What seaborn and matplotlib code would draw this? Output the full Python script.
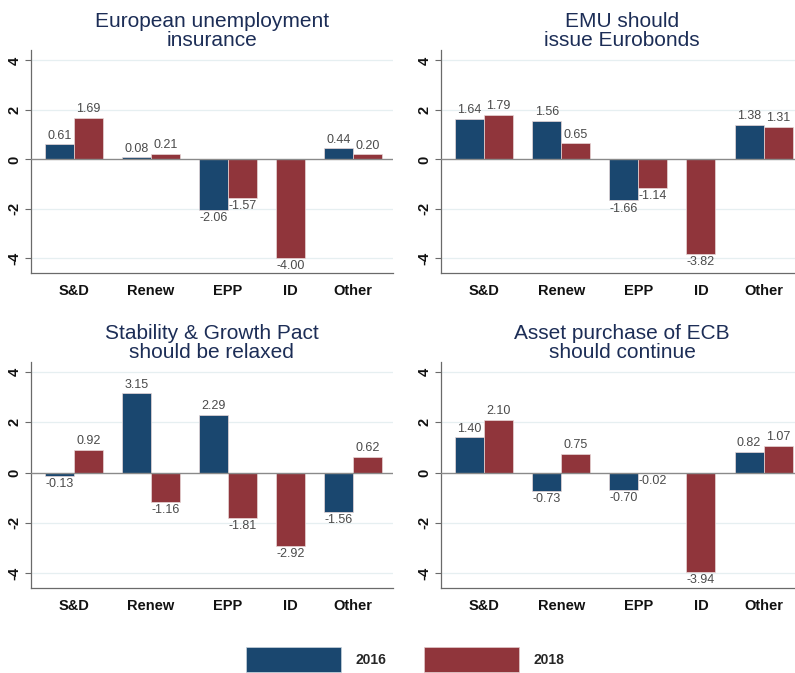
import numpy as np
import pandas as pd
import matplotlib
matplotlib.use("Agg")
import matplotlib.pyplot as plt
from matplotlib.patches import Patch
import seaborn as sns

# ---------------- data ----------------
parties = ["S&D", "Renew", "EPP", "ID", "Other"]
years = ["2016", "2018"]
titles = [
    "European unemployment\ninsurance",
    "EMU should\nissue Eurobonds",
    "Stability & Growth Pact\nshould be relaxed",
    "Asset purchase of ECB\nshould continue",
]
unemp_2016 = [0.61, 0.08, -2.06, np.nan, 0.44]
unemp_2018 = [1.69, 0.21, -1.57, -4.00, 0.20]
eurobonds_2016 = [1.64, 1.56, -1.66, np.nan, 1.38]
eurobonds_2018 = [1.79, 0.65, -1.14, -3.82, 1.31]
sgp_2016 = [-0.13, 3.15, 2.29, np.nan, -1.56]
sgp_2018 = [0.92, -1.16, -1.81, -2.92, 0.62]
ecb_2016 = [1.40, -0.73, -0.70, np.nan, 0.82]
ecb_2018 = [2.10, 0.75, -0.02, -3.94, 1.07]

series = [
    (unemp_2016, unemp_2018),
    (eurobonds_2016, eurobonds_2018),
    (sgp_2016, sgp_2018),
    (ecb_2016, ecb_2018),
]

NAVY = "#1a476f"
MAROON = "#90353b"
palette = {"2016": NAVY, "2018": MAROON}
TITLE_C = "#1c2d56"
GAP = 0.66  # gap between groups, in bar widths

sns.set_theme(style="white")
plt.rcParams["font.family"] = ["Liberation Sans", "DejaVu Sans"]

fig = plt.figure(figsize=(7.95, 6.73), dpi=100)
W = 0.455
positions = [
    [0.039, 0.594, W, 0.331],
    [0.555, 0.594, W, 0.331],
    [0.039, 0.126, W, 0.336],
    [0.555, 0.126, W, 0.336],
]


def build_frame(v16, v18):
    rows = []
    centers = []
    start = 0.0
    for i, p in enumerate(parties):
        vals = [(y, v) for y, v in zip(years, (v16[i], v18[i])) if not np.isnan(v)]
        n = len(vals)
        for k, (y, v) in enumerate(vals):
            rows.append({"party": p, "year": y, "value": v, "pos": start + k + 0.5})
        centers.append(start + n / 2.0)
        start += n + GAP
    return pd.DataFrame(rows), centers, start - GAP


for idx, (ttl, (v16, v18)) in enumerate(zip(titles, series)):
    ax = fig.add_axes(positions[idx])
    df, centers, total = build_frame(v16, v18)
    # grid and zero line
    for g in [-4, -2, 2, 4]:
        ax.axhline(g, color="#e6eff1", lw=0.9, zorder=0)
    sns.barplot(data=df, x="pos", y="value", hue="year", palette=palette,
                native_scale=True, dodge=False, width=1.0, errorbar=None,
                saturation=1, legend=False, ax=ax, edgecolor="#e8d8d8",
                linewidth=0.5, zorder=2)
    ax.axhline(0, color="#8a8a8a", lw=1.0, zorder=3)
    for _, r in df.iterrows():
        v = r["value"]
        if v >= 0:
            ax.annotate(f"{v:.2f}", (r["pos"], v), xytext=(0, 2.0),
                        textcoords="offset points", ha="center", va="bottom",
                        fontsize=9, color="#4a4a4a", annotation_clip=False,
                        clip_on=True, zorder=4)
        else:
            ax.annotate(f"{v:.2f}", (r["pos"], v), xytext=(0, -1.5),
                        textcoords="offset points", ha="center", va="top",
                        fontsize=9, color="#4a4a4a", annotation_clip=False,
                        clip_on=True, zorder=4)
    ax.set_xlim(-0.48, total + 0.36)
    ax.set_ylim(-4.6, 4.4)
    ax.set_xticks(centers)
    ax.set_xticklabels(parties, fontsize=10.5, fontweight="bold", color="#111111")
    ax.set_yticks([-4, -2, 0, 2, 4])
    ax.set_yticklabels(["-4", "-2", "0", "2", "4"], fontsize=10.5,
                       fontweight="bold", color="#111111", rotation=90, va="center")
    ax.tick_params(axis="x", length=0, pad=8)
    ax.tick_params(axis="y", length=4, width=0.8, color="#6a6a6a", pad=3, left=True)
    ax.set_xlabel("")
    ax.set_ylabel("")
    for s in ["top", "right"]:
        ax.spines[s].set_visible(False)
    for s in ["left", "bottom"]:
        ax.spines[s].set_color("#6a6a6a")
        ax.spines[s].set_linewidth(0.9)
    ax.set_title(ttl, fontsize=15, color=TITLE_C, pad=3, linespacing=1.02)

handles = [Patch(facecolor=NAVY, edgecolor="#c9d3dc", linewidth=0.5),
           Patch(facecolor=MAROON, edgecolor="#e2c9cb", linewidth=0.5)]
leg = fig.legend(handles=handles, labels=years, loc="lower center", ncol=2,
                 bbox_to_anchor=(0.51, 0.0), frameon=False, handlelength=6.8,
                 handleheight=2.4, handletextpad=1.1, columnspacing=2.7,
                 borderaxespad=0.0, borderpad=0.05,
                 prop={"size": 10, "weight": "bold"})

fig.savefig("out.png", dpi=100, facecolor="white")
